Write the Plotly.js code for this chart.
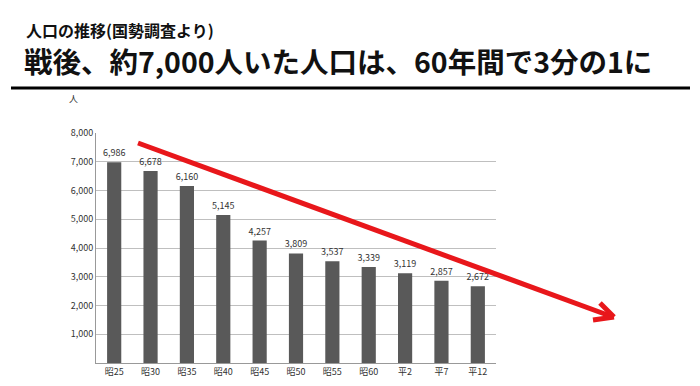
<!DOCTYPE html>
<html><head><meta charset="utf-8">
<script src="https://cdn.plot.ly/plotly-3.0.1.min.js"></script>
<style>body{margin:0;background:#fff}#c{width:700px;height:386px}</style>
</head><body><div id="c"></div>
<script>
const categories = ["昭25","昭30","昭35","昭40","昭45","昭50","昭55","昭60","平2","平7","平12"];
const population = [6986,6678,6160,5145,4257,3809,3537,3339,3119,2857,2672];
const yTicks = [0,1000,2000,3000,4000,5000,6000,7000,8000];
const yTickLabels = ["","1,000","2,000","3,000","4,000","5,000","6,000","7,000","8,000"];
const subtitle = "人口の推移(国勢調査より)";
const mainTitle = "戦後、約7,000人いた人口は、60年間で3分の1に";
const unitLabel = "人";

const L=96, R=496, T=133, B=363;
const W=700, H=386;
function px(x){return (x-L)/(R-L);}
function py(y){return (B-y)/(B-T);}
const jp = "'Noto Sans CJK JP', 'Noto Sans', sans-serif";

const trace = {
  type:'bar', x:categories, y:population,
  marker:{color:'#595959'},
  text: population.map(v=>v.toLocaleString('en-US')),
  textposition:'outside', cliponaxis:false, constraintext:'none',
  textfont:{size:9,color:'#333',family:jp},
  hoverinfo:'none'
};
const red='#e8171b';
const layout = {
  width:W, height:H, showlegend:false,
  margin:{l:L, r:W-R, t:T, b:H-B, pad:0},
  paper_bgcolor:'#fff', plot_bgcolor:'#fff',
  bargap:0.61,
  font:{family:jp, color:'#333'},
  xaxis:{type:'category', showgrid:false, showline:true, linecolor:'#999', linewidth:1,
    ticks:'', tickfont:{size:9,color:'#333'}, fixedrange:true},
  yaxis:{range:[0,8000], tickvals:yTicks, ticktext:yTickLabels, showgrid:true, gridcolor:'#bfbfbf',
    gridwidth:1, showline:true, linecolor:'#999', zeroline:false, ticks:'', ticklen:0,
    tickfont:{size:9,color:'#333'}, fixedrange:true},
  annotations:[
    {xref:'paper',yref:'paper',x:px(24),y:py(30),xanchor:'left',yanchor:'middle',showarrow:false,
     text:'<b>'+subtitle+'</b>',font:{size:16,color:'#111',family:jp}},
    {xref:'paper',yref:'paper',x:px(22),y:py(60),xanchor:'left',yanchor:'middle',showarrow:false,
     text:'<b>'+mainTitle+'</b>',font:{size:28.5,color:'#111',family:jp}},
    {xref:'paper',yref:'paper',x:px(73),y:py(98),xanchor:'center',yanchor:'middle',showarrow:false,
     text:unitLabel,font:{size:9,color:'#333',family:jp}}
  ],
  shapes:[
    {type:'line',xref:'paper',yref:'paper',x0:px(11),x1:px(690),y0:py(88),y1:py(88),line:{color:'#000',width:3}},
    {type:'line',xref:'paper',yref:'paper',x0:px(138),y0:py(143),x1:px(613),y1:py(317),line:{color:red,width:5}},
    {type:'line',xref:'paper',yref:'paper',x0:px(600),y0:py(303),x1:px(614),y1:py(317),line:{color:red,width:5}},
    {type:'line',xref:'paper',yref:'paper',x0:px(593),y0:py(320),x1:px(614),y1:py(317),line:{color:red,width:5}}
  ]
};
Plotly.newPlot('c',[trace],layout,{displayModeBar:false,staticPlot:true});
</script></body></html>
